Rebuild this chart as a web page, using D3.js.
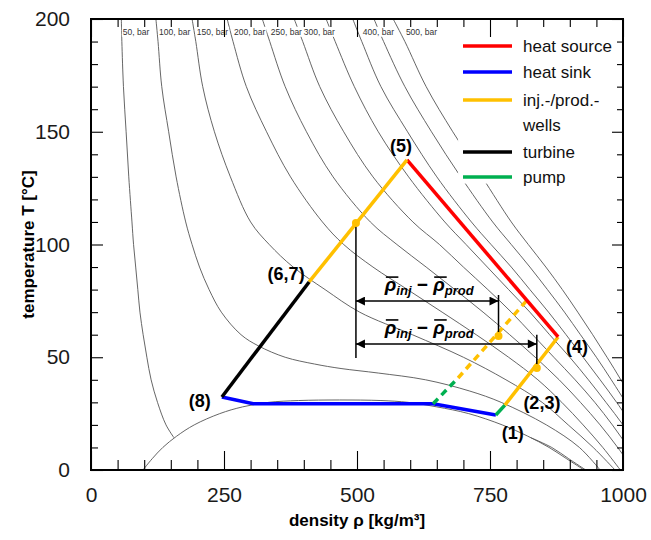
<!DOCTYPE html>
<html>
<head>
<meta charset="utf-8">
<script src="https://cdn.jsdelivr.net/npm/d3@7"></script>
<style>
  body { margin: 0; background: #fff; }
  text { font-family: Arial, "Liberation Sans", sans-serif; }
</style>
</head>
<body>
<div id="chart"></div>
<script>
// ---- data: density [kg/m3], temperature [degC] ----
const isobarPressures = [50, 100, 150, 200, 250, 300, 350, 400, 450, 500];
const isobarLabels = { 50: "50, bar", 100: "100, bar", 150: "150, bar", 200: "200, bar",
                       250: "250, bar", 300: "300, bar", 400: "400, bar", 500: "500, bar" };
const isobar050 = [[57,200],[58,190],[61,170],[66,150],[71,130],[77,110],[80,100],[84,90],[88,80],[92,70],[98,60],[105,50],[113,40],[125,30],[141,20],[156,14.3]];
const isobar050Liquid = [[827,14.3],[866,10],[898,5],[930,0]];
const isobar100 = [[122,200],[126,190],[133,170],[146,150],[160,130],[178,110],[190,100],[204,90],[222,80],[245,70],[282,60],[315,55],[365,50],[420,47],[470,45],[540,43],[629,40],[712,35],[771,30],[856,20],[918,10],[957,0]];
const isobar150 = [[190,200],[197,190],[210,170],[232,150],[262,130],[300,110],[335,100],[380,90],[440,80],[505,70],[604,60],[700,50],[780,40],[848,30],[897,20],[944,10],[985,0]];
const isobar200 = [[256,200],[267,190],[292,170],[330,150],[375,130],[435,110],[475,100],[530,90],[595,80],[660,70],[724,60],[785,50],[840,40],[885,30],[925,20],[962,10],[995,0]];
const isobar250 = [[322,200],[336,190],[365,170],[405,150],[455,130],[525,110],[575,100],[630,90],[684,80],[737,70],[787,60],[835,50],[880,40],[920,30],[957,20],[990,10],[1020,0]];
const isobar300 = [[382,200],[398,190],[430,170],[475,150],[530,130],[605,110],[655,100],[700,90],[746,80],[790,70],[830,60],[870,50],[910,40],[947,30],[980,20],[1010,10],[1040,0]];
const isobar350 = [[442,200],[459,190],[495,170],[540,150],[597,130],[665,110],[705,100],[745,90],[785,80],[825,70],[862,60],[900,50],[935,40],[968,30],[1000,20],[1028,10]];
const isobar400 = [[492,200],[509,190],[545,170],[595,150],[650,130],[715,110],[752,100],[790,90],[825,80],[860,70],[893,60],[925,50],[957,40],[988,30],[1017,20]];
const isobar450 = [[532,200],[550,190],[590,170],[640,150],[695,130],[755,110],[790,100],[825,90],[858,80],[890,70],[920,60],[950,50],[978,40],[1005,30]];
const isobar500 = [[568,200],[590,190],[630,170],[680,150],[735,130],[790,110],[822,100],[855,90],[886,80],[915,70],[943,60],[970,50],[996,40],[1020,30]];
const saturationDome = [[97.6,0],[115,5],[135,10],[161,15],[194,20],[242,25],[285,28],[334,30],[390,30.8],[467,31.05],[545,30.8],[596,30],[650,28],[710,25],[773,20],[821,15],[861,10],[894,5],[927,0]];

// cycle state points (1) .. (8)
const stateLabels = ["(1)", "(2,3)", "(4)", "(5)", "(6,7)", "(8)"];
const stateRho = [761, 778, 878, 594, 410, 246];
const stateT = [24.4, 28.8, 59, 137.5, 83.4, 32.4];
const heatSinkRho = [246, 305, 643, 761];
const heatSinkT = [32.4, 29.4, 29.4, 24.4];
const pumpDashRho = [643, 690];
const pumpDashT = [29.4, 40.8];
const wellDashRho = [690, 820];
const wellDashT = [40.8, 75.4];
const markerRho = [498, 766, 838];
const markerT = [109.5, 59.4, 45.2];
const arrowT = [74.9, 55.9];
const arrowRhoFrom = [498, 498];
const arrowRhoTo = [766, 838];
const guideRho = [498, 766, 838];
const guideTop = [109.5, 77.6, 60];
const guideBottom = [49.7, 59.4, 45.2];

const xTicks = [0, 250, 500, 750, 1000];
const yTicks = [0, 50, 100, 150, 200];

const legendItems = [
  { label: "heat source", color: "#ff0000" },
  { label: "heat sink", color: "#0000ff" },
  { label: "inj.-/prod.-", color: "#ffc000" },
  { label: "wells", color: null },
  { label: "turbine", color: "#000000" },
  { label: "pump", color: "#00b050" }
];

// ---- layout ----
const width = 651, height = 540;
const margin = { top: 19, right: 28, bottom: 70, left: 91 };
const W = width - margin.left - margin.right;
const H = height - margin.top - margin.bottom;

const svg = d3.select("#chart").append("svg")
  .attr("width", width).attr("height", height);
svg.append("rect").attr("width", width).attr("height", height).attr("fill", "#fff");

const g = svg.append("g").attr("transform", `translate(${margin.left},${margin.top})`);

const x = d3.scaleLinear().domain([0, 1000]).range([0, W]);
const y = d3.scaleLinear().domain([0, 200]).range([H, 0]);

g.append("clipPath").attr("id", "plot-clip")
  .append("rect").attr("width", W).attr("height", H);

const line = d3.line().x(d => x(d[0])).y(d => y(d[1])).curve(d3.curveCatmullRom.alpha(0.5));
const straight = d3.line().x(d => x(d[0])).y(d => y(d[1]));
const zip = (a, b) => a.map((v, i) => [v, b[i]]);

// isobars + saturation dome
const isoG = g.append("g").attr("clip-path", "url(#plot-clip)");
const isobarData = [isobar050, isobar050Liquid, isobar100, isobar150, isobar200, isobar250,
                    isobar300, isobar350, isobar400, isobar450, isobar500, saturationDome];
isoG.selectAll("path.iso").data(isobarData).enter().append("path")
  .attr("class", "iso")
  .attr("d", line)
  .attr("fill", "none")
  .attr("stroke", "#555")
  .attr("stroke-width", 0.9);

// isobar labels with white background
const mainIsobars = [isobar050, isobar100, isobar150, isobar200, isobar250, isobar300, isobar350, isobar400, isobar450, isobar500];
isobarPressures.forEach((p, i) => {
  if (!isobarLabels[p]) return;
  const pt = mainIsobars[i][1];
  const t = g.append("text")
    .attr("x", x(pt[0]) + 1)
    .attr("y", y(193))
    .attr("font-size", 8.5)
    .attr("fill", "#333")
    .text(isobarLabels[p]);
  const bb = t.node().getBBox();
  g.insert("rect", "text")
    .attr("x", bb.x - 1).attr("y", bb.y).attr("width", bb.width + 2).attr("height", bb.height)
    .attr("fill", "#fff");
});

// white legend panel (covers isobars)
const legX = x(690);
g.append("rect").attr("x", legX).attr("y", 0)
  .attr("width", W - legX).attr("height", y(127))
  .attr("fill", "#fff");

// ---- frame ticks ----
const minorX = d3.range(0, 1001, 50).filter(v => v % 250 !== 0);
const minorY = d3.range(0, 201, 10).filter(v => v % 50 !== 0);
function addTicks(axis, vals, size, tx, ty) {
  const a = g.append("g").attr("transform", `translate(${tx},${ty})`)
    .call(axis.tickValues(vals).tickSizeInner(-size).tickSizeOuter(0).tickFormat(""));
  a.select(".domain").remove();
  a.selectAll("line").attr("stroke", "#000").attr("stroke-width", 1.1);
}
addTicks(d3.axisBottom(x), minorX, 10, 0, H);
addTicks(d3.axisBottom(x), xTicks, 19, 0, H);
addTicks(d3.axisTop(x), minorX, 8, 0, 0);
addTicks(d3.axisTop(x), xTicks, 18, 0, 0);
addTicks(d3.axisLeft(y), minorY, 7, 0, 0);
addTicks(d3.axisLeft(y), yTicks, 12, 0, 0);
addTicks(d3.axisRight(y), minorY, 6, W, 0);
addTicks(d3.axisRight(y), yTicks, 11, W, 0);

g.append("rect").attr("width", W).attr("height", H)
  .attr("fill", "none").attr("stroke", "#000").attr("stroke-width", 2);

// tick labels
const xl = g.append("g").attr("transform", `translate(0,${H})`)
  .call(d3.axisBottom(x).tickValues(xTicks).tickFormat(d3.format("d")).tickSize(0).tickPadding(17));
xl.select(".domain").remove();
xl.selectAll("text").attr("font-size", 21).attr("fill", "#1a1a1a").attr("font-family", "Arial, 'Liberation Sans', sans-serif");
const yl = g.append("g")
  .call(d3.axisLeft(y).tickValues(yTicks).tickFormat(d3.format("d")).tickSize(0).tickPadding(21));
yl.select(".domain").remove();
yl.selectAll("text").attr("font-size", 21).attr("fill", "#1a1a1a").attr("font-family", "Arial, 'Liberation Sans', sans-serif");

// axis titles
svg.append("text")
  .attr("transform", `translate(34,${margin.top + H / 2}) rotate(-90)`)
  .attr("text-anchor", "middle")
  .attr("font-size", 17).attr("font-weight", "bold")
  .text("temperature T [°C]");
svg.append("text")
  .attr("x", margin.left + W / 2).attr("y", 526)
  .attr("text-anchor", "middle")
  .attr("font-size", 17).attr("font-weight", "bold")
  .text("density ρ [kg/m³]");

// ---- cycle ----
const pts = zip(stateRho, stateT);
const cyc = g.append("g");
const seg = (data, color, dash) => cyc.append("path")
  .attr("d", straight(data)).attr("fill", "none")
  .attr("stroke", color).attr("stroke-width", 3.5)
  .attr("stroke-dasharray", dash || null);

seg(zip(heatSinkRho, heatSinkT), "#0000ff");
seg(zip(pumpDashRho, pumpDashT), "#00b050", "7,5");
seg(zip(wellDashRho, wellDashT), "#ffc000", "7,5");
seg([pts[0], pts[1]], "#00b050");
seg([pts[1], pts[2]], "#ffc000");
seg([pts[2], pts[3]], "#ff0000");
seg([pts[3], pts[4]], "#ffc000");
seg([pts[4], pts[5]], "#000000");

// guide verticals
guideRho.forEach((r, i) => {
  cyc.append("line")
    .attr("x1", x(r)).attr("x2", x(r))
    .attr("y1", y(guideTop[i])).attr("y2", y(guideBottom[i]))
    .attr("stroke", "#000").attr("stroke-width", 1.5);
});

// markers
cyc.selectAll("circle").data(zip(markerRho, markerT)).enter().append("circle")
  .attr("cx", d => x(d[0])).attr("cy", d => y(d[1])).attr("r", 4)
  .attr("fill", "#ffc000");

// double arrows
const defs = svg.append("defs");
defs.append("marker").attr("id", "ah")
  .attr("viewBox", "0 0 10 10").attr("refX", 10).attr("refY", 5)
  .attr("markerWidth", 11).attr("markerHeight", 9).attr("markerUnits", "userSpaceOnUse")
  .attr("orient", "auto-start-reverse")
  .append("path").attr("d", "M0,0 L10,5 L0,10 Z").attr("fill", "#000");

arrowT.forEach((t, i) => {
  cyc.append("line")
    .attr("x1", x(arrowRhoFrom[i])).attr("x2", x(arrowRhoTo[i]))
    .attr("y1", y(t)).attr("y2", y(t))
    .attr("stroke", "#000").attr("stroke-width", 1.5)
    .attr("marker-start", "url(#ah)").attr("marker-end", "url(#ah)");
  const lbl = cyc.append("text")
    .attr("x", (x(arrowRhoFrom[i]) + x(766)) / 2 + 2)
    .attr("y", y(t) - 10)
    .attr("text-anchor", "middle")
    .attr("font-family", "'Liberation Serif', 'DejaVu Serif', serif")
    .attr("font-weight", "bold").attr("font-style", "italic")
    .attr("font-size", 19);
  const rhos = [];
  rhos.push(lbl.append("tspan").text("ρ"));
  lbl.append("tspan").attr("font-size", 13).attr("dy", 4).text("inj");
  lbl.append("tspan").attr("dy", -4).attr("font-style", "normal").text(" − ");
  rhos.push(lbl.append("tspan").text("ρ"));
  lbl.append("tspan").attr("font-size", 13).attr("dy", 4).text("prod");
  // overline bars above each rho
  rhos.forEach(r => {
    const bb = r.node().getBBox();
    cyc.append("line")
      .attr("x1", bb.x + 2).attr("x2", bb.x + bb.width + 2)
      .attr("y1", bb.y + 3).attr("y2", bb.y + 3)
      .attr("stroke", "#000").attr("stroke-width", 1.6);
  });
});

// state labels
const labelOffsets = [[17, 18], [37, -2], [19, 10], [-6, -14], [-23, -8], [-22, 4]];
stateLabels.forEach((s, i) => {
  g.append("text")
    .attr("x", x(stateRho[i]) + labelOffsets[i][0])
    .attr("y", y(stateT[i]) + labelOffsets[i][1])
    .attr("text-anchor", "middle").attr("dominant-baseline", "central")
    .attr("font-size", 18).attr("font-weight", "bold")
    .text(s);
});

// ---- legend ----
const leg = svg.append("g").attr("transform", "translate(463,46)");
const rowY = [0, 26, 54, 79, 106, 131];
legendItems.forEach((d, i) => {
  if (d.color) {
    leg.append("line").attr("x1", 0).attr("x2", 49)
      .attr("y1", rowY[i]).attr("y2", rowY[i])
      .attr("stroke", d.color).attr("stroke-width", 3.5);
  }
  leg.append("text").attr("x", 60).attr("y", rowY[i])
    .attr("dominant-baseline", "central")
    .attr("font-size", 17).attr("fill", "#111")
    .text(d.label);
});
</script>
</body>
</html>
